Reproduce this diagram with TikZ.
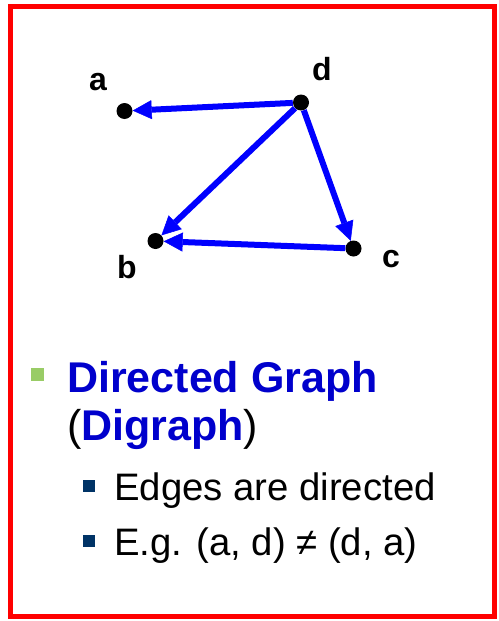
\documentclass[tikz,border=0pt]{standalone}
\usepackage{fontspec}
\setmainfont{Liberation Sans}
\usetikzlibrary{arrows.meta}

\definecolor{edgeblue}{RGB}{0,0,255}
\definecolor{headblue}{RGB}{0,0,204}
\definecolor{bulletgreen}{RGB}{153,204,102}
\definecolor{bulletnavy}{RGB}{0,51,102}
\definecolor{framered}{RGB}{255,0,0}

\begin{document}
\begin{tikzpicture}[
  x=1pt, y=-1pt,
  vertex/.style  = {circle, fill=black, inner sep=0pt, minimum size=16pt},
  vlabel/.style  = {font=\fontsize{32}{32}\selectfont\bfseries, inner sep=0pt},
  edge/.style    = {edgeblue, line width=6pt,
                    -{Triangle[length=19pt,width=19pt,line width=0.5pt]}},
  head/.style    = {anchor=base west, inner sep=0pt,
                    font=\fontsize{43}{43}\selectfont},
  item/.style    = {anchor=base west, inner sep=0pt,
                    font=\fontsize{38.3}{38.3}\selectfont},
  bigsq/.style   = {fill=bulletgreen, inner sep=0pt, minimum size=13pt},
  smallsq/.style = {fill=bulletnavy, inner sep=0pt, minimum size=12pt},
]
  \useasboundingbox (0,0) rectangle (498,621);
  \draw[framered, line width=5pt] (10.5,6.5) rectangle (494.5,616.5);

  \node[vertex] (a) at (124.5,111) {};
  \node[vertex] (d) at (301,102.5) {};
  \node[vertex] (b) at (155.5,241) {};
  \node[vertex] (c) at (353.5,248.5) {};

  \node[vlabel] (lbl_a) at (98,82) {a};
  \node[vlabel] (lbl_d) at (322,69) {d};
  \node[vlabel] (lbl_b) at (127,267) {b};
  \node[vlabel] (lbl_c) at (391,259) {c};

  \draw[edge] (d) -- (a);
  \draw[edge] (d) -- (b);
  \draw[edge] (d) -- (c);
  \draw[edge] (c) -- (b);

  % text block below the graph
  \node[bigsq] (sq_head) at (37.5,374.5) {};
  \node[head] (title) at (67,392) {\textbf{\color{headblue}Directed Graph}};
  \node[head] (subtitle) at (67,440) {(\textbf{\color{headblue}Digraph})};

  \node[smallsq] (sq_one) at (89,486) {};
  \node[item] (one) at (114,500) {Edges are directed};
  \node[smallsq] (sq_two) at (89,541) {};
  \node[item] (two) at (114,555) {E.g. (a, d) ≠ (d, a)};
\end{tikzpicture}
\end{document}
